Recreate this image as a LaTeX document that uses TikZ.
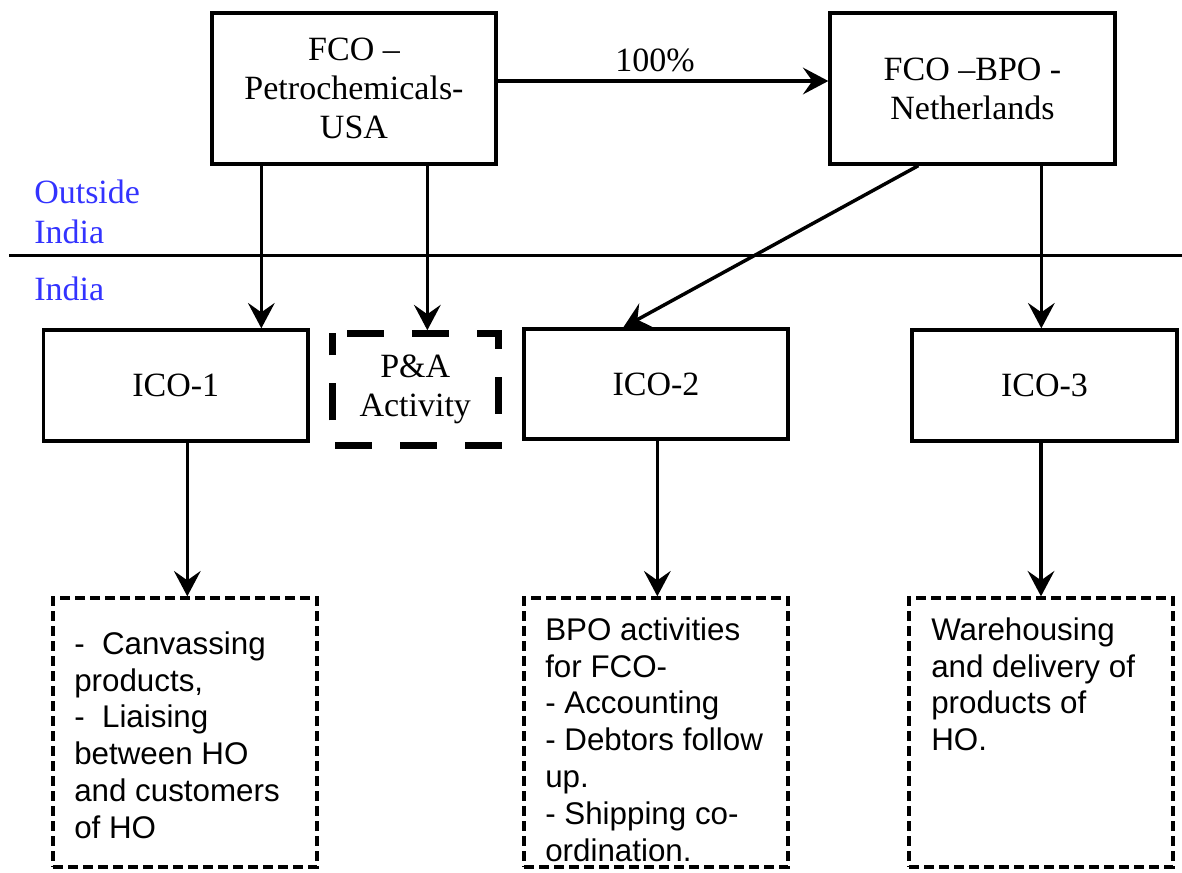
\documentclass[tikz,border=0pt]{standalone}
\usepackage{fontspec}
\setmainfont{Liberation Serif}
\setsansfont{Liberation Sans}
\usetikzlibrary{arrows.meta,calc}
\definecolor{regblue}{RGB}{51,51,255}
\newcommand\diagserif{\fontsize{25.5}{29.3}\selectfont}
\newcommand\diagblue{\fontsize{25.5}{30}\selectfont}
\newcommand\diagsans{\sffamily\fontsize{23.5}{27.6}\selectfont}
\begin{document}
\begin{tikzpicture}[x=0.75pt,y=-0.75pt,
  solidbox/.style={draw, line width=2.5pt, inner sep=0pt, align=center, font=\diagserif},
  dashbox/.style={draw, line width=2.5pt, inner sep=0pt, dash pattern=on 7.5pt off 3.75pt},
  padash/.style={line width=5.25pt, dash pattern=on 27.75pt off 21pt, dash phase=37.5pt},
  arr/.style={line width=2.6pt, -{Stealth[length=19pt,width=20pt,inset=7pt]}},
  divider/.style={line width=2.25pt},
  regionlbl/.style={inner sep=0pt, align=left, font=\diagblue, text=regblue},
  listtext/.style={inner sep=0pt, align=left, font=\diagsans}]
\useasboundingbox (0,0) rectangle (1182,872);

% top boxes
\node[solidbox, minimum width=213pt, minimum height=113.25pt] (usa) at (354,88.5)
  {FCO --\\Petrochemicals-\\USA};
\node[solidbox, minimum width=213.75pt, minimum height=113.25pt] (bpo) at (972.5,88.5)
  {FCO --BPO -\\Netherlands};
\node[inner sep=0pt, font=\diagserif, anchor=base] (pct) at (655,71) {100\%};

% region labels and divider
\node[regionlbl, anchor=north west] (outside) at (34,176.33) {\rule{0pt}{20pt}Outside\\India};
\node[regionlbl, anchor=base west] (india) at (34,300) {India};
\coordinate (divL) at (9,255);
\coordinate (divR) at (1182,255);
\draw[divider] (divL) -- (divR);

% middle boxes
\node[solidbox, minimum width=198.4pt, minimum height=83.25pt] (ico1) at (175.75,385.5) {ICO-1};
\node[inner sep=0pt, align=center, font=\diagserif, minimum width=124.1pt, minimum height=84pt] (pa) at (415.25,389.5) {P\&A\\Activity};
\draw[padash] (pa.north west) -- (pa.north east) -- (pa.south east) -- (pa.south west) -- cycle;
\node[solidbox, minimum width=198pt, minimum height=82.5pt] (ico2) at (656,384) {ICO-2};
\node[solidbox, minimum width=198.75pt, minimum height=83.25pt] (ico3) at (1044.5,385.5) {ICO-3};

% bottom boxes
\node[dashbox, minimum width=198pt, minimum height=201.75pt] (b1) at (185,732.5) {};
\node[dashbox, minimum width=198pt, minimum height=201.75pt] (b2) at (656,732.5) {};
\node[dashbox, minimum width=198pt, minimum height=201.75pt] (b3) at (1041,732.5) {};
\node[listtext, anchor=north west] (t1) at (74,627.33)
  {\rule{0pt}{20pt}-~~Canvassing\\products,\\-~~Liaising\\between HO\\and customers\\of HO};
\node[listtext, anchor=north west] (t2) at (545,613.33)
  {\rule{0pt}{20pt}BPO activities\\for FCO-\\- Accounting\\- Debtors follow\\up.\\- Shipping co-\\ordination.};
\node[listtext, anchor=north west] (t3) at (931,613.33)
  {\rule{0pt}{20pt}Warehousing\\and delivery of\\products of\\HO.};

% connectors
\draw[arr] ($(usa.east)+(0,-7.5)$) coordinate (h1) -- (h1 -| bpo.west);
\draw[arr] ($(usa.south west)+(51,0)$) coordinate (l1) -- (l1 |- ico1.north);
\draw[arr] ($(usa.south west)+(217,0)$) coordinate (l2) -- ($(l2 |- pa.north)+(0,-3)$);
\draw[arr] ($(bpo.south west)+(90,0)$) -- ($(ico2.north west)+(101,0)$);
\draw[arr] ($(bpo.south west)+(213,0)$) coordinate (l4) -- (l4 |- ico3.north);
\draw[arr] ($(ico1.south west)+(145.5,0)$) coordinate (d1) -- (d1 |- b1.north);
\draw[arr] ($(ico2.south west)+(135,0)$) coordinate (d2) -- (d2 |- b2.north);
\draw[arr] (ico3.south -| b3.north) -- (b3.north);
\end{tikzpicture}
\end{document}
